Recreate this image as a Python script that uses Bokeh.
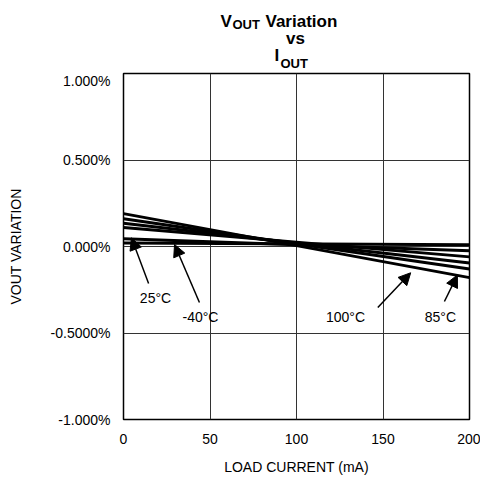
from bokeh.plotting import figure
from bokeh.layouts import column
from bokeh.models import Range1d, FixedTicker, Label, Arrow, NormalHead
from bokeh.core.properties import value
from bokeh.embed import file_html
from bokeh.resources import INLINE

# ---- data ----
load_current = [0, 200]
# VOUT variation (%) at 0 mA and 200 mA for each curve
curve_85C = [0.19, -0.18]
curve_100C = [0.16, -0.13]
curve_a = [0.135, -0.095]
curve_b = [0.11, -0.06]
curve_25C = [0.045, -0.025]
curve_m40C = [0.02, 0.01]
curves = [curve_85C, curve_100C, curve_a, curve_b, curve_25C, curve_m40C]

x_ticks = [0, 50, 100, 150, 200]
y_ticks = [-1, -0.5, 0, 0.5, 1]
y_tick_labels = ["-1.000%", "-0.5000%", "0.000%", "0.500%", "1.000%"]

# annotations: label text, label pos, arrow tail, arrow head (data units)
annots = [
    ("25°C", (18.5, -0.295), (14.5, -0.214), (4.6, 0.05)),
    ("-40°C", (44.5, -0.405), (43.9, -0.324), (29.5, 0.012)),
    ("100°C", (128.3, -0.405), (147.0, -0.353), (166.0, -0.152)),
    ("85°C", (183.2, -0.405), (185.5, -0.318), (193.0, -0.165)),
]

FONT = "Liberation Sans"
LEFT, RIGHT = 123, 11
FW = 346          # frame width
TH = 72           # title strip height

# ---- title strip (x in page pixels, y downward) ----
t = figure(frame_width=FW, frame_height=TH, output_backend="svg", toolbar_location=None,
           x_range=Range1d(LEFT, LEFT + FW), y_range=Range1d(TH, 0),
           min_border_left=LEFT, min_border_right=RIGHT,
           min_border_top=0, min_border_bottom=0,
           x_axis_type=None, y_axis_type=None)
t.outline_line_color = None
t.xgrid.visible = False
t.ygrid.visible = False

def ttext(x, y, s, size, align="left"):
    t.text(x=[x], y=[y], text=[s], text_font=value(FONT), text_font_size=size,
           text_font_style="bold", text_baseline="alphabetic", text_align=align,
           text_color="black")

ttext(220, 21, "V", "17px")
ttext(232, 24, "OUT", "13px")
ttext(265, 21, "Variation", "17px")
ttext(295, 38, "vs", "17px", "center")
ttext(274, 55, "I", "17px")
ttext(280, 63, "OUT", "13px")

# ---- main chart ----
p = figure(frame_width=FW, frame_height=346, output_backend="svg", toolbar_location=None,
           x_range=Range1d(0, 200), y_range=Range1d(-1, 1),
           min_border_left=LEFT, min_border_right=RIGHT,
           min_border_top=1, min_border_bottom=56)
p.outline_line_color = "black"
p.outline_line_width = 1.5

for ax in (p.xaxis[0], p.yaxis[0]):
    ax.axis_line_color = None
    ax.major_tick_line_color = None
    ax.minor_tick_line_color = None
    ax.major_label_text_font = FONT
    ax.major_label_text_font_size = "14px"
    ax.major_label_text_color = "black"
    ax.axis_label_text_font = FONT
    ax.axis_label_text_font_size = "14px"
    ax.axis_label_text_font_style = "normal"
    ax.axis_label_text_color = "black"

p.xaxis.ticker = FixedTicker(ticks=x_ticks)
p.yaxis.ticker = FixedTicker(ticks=y_ticks)
p.yaxis.major_label_overrides = {t_: l for t_, l in zip(y_ticks, y_tick_labels)}
p.xaxis.major_label_standoff = 8
p.yaxis.major_label_standoff = 7
p.xaxis.axis_label = "LOAD CURRENT (mA)"
p.yaxis.axis_label = "VOUT VARIATION"
p.xaxis.axis_label_standoff = 12
p.yaxis.axis_label_standoff = 24

p.xgrid.grid_line_color = "#333333"
p.ygrid.grid_line_color = "#333333"
p.xgrid.grid_line_width = 1
p.ygrid.grid_line_width = 1

for c in curves:
    p.line(load_current, c, line_color="black", line_width=3)

for text, lp, tail, head in annots:
    p.add_layout(Arrow(x_start=tail[0], y_start=tail[1], x_end=head[0], y_end=head[1],
                       line_color="black", line_width=1.5,
                       end=NormalHead(size=12, fill_color="black", line_color="black")))
    p.add_layout(Label(x=lp[0], y=lp[1], text=text, text_font=FONT,
                       text_font_size="14px", text_align="center",
                       text_baseline="middle", text_color="black"))

open("out.html", "w").write(file_html(column(t, p, spacing=0), INLINE))
